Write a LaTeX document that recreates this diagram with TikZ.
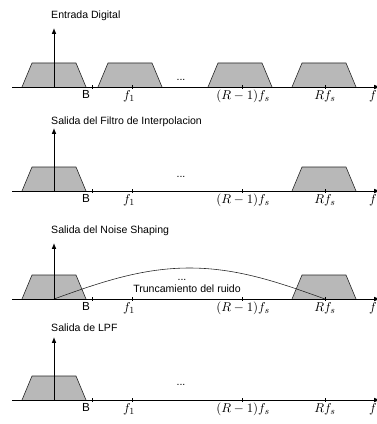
\documentclass[tikz,border=0pt]{standalone}
\usepackage{fontspec}
\setsansfont{Liberation Sans}
\usetikzlibrary{arrows.meta,positioning}

\begin{document}
\begin{tikzpicture}[
    x=0.03cm, y=-0.03cm,
    axis/.style={line width=0.7pt, -{Latex[length=5pt,width=4pt]}},
    band/.style={draw=black!85, line width=0.5pt, fill=black!28},
    noise/.style={draw=black!85, line width=0.5pt},
    tick/.style={line width=0.4pt},
    title/.style={font=\sffamily\fontsize{9}{10}\selectfont, anchor=west, inner sep=0pt},
    lbl/.style={font=\fontsize{11}{12}\selectfont, anchor=north, inner sep=0pt},
    blbl/.style={font=\sffamily\fontsize{10}{11}\selectfont, anchor=north, inner sep=0pt},
    dots/.style={font=\sffamily\fontsize{9}{10}\selectfont, inner sep=0pt}
]
\useasboundingbox (0,0) rectangle (377,424);
% bands (drawn first, axes on top)
\foreach \ya/\cx in {87/54, 87/130, 87/240, 87/324, 191/54, 191/324, 299/54, 299/324, 400/54}
  \path[band] (\cx-32,\ya) -- (\cx-22,\ya-24) -- (\cx+22,\ya-24) -- (\cx+32,\ya);
% noise shaping curve
\draw[noise] plot[domain=54:325, samples=60] (\x, {299-31*sin(0.6642*(\x-54))});
\node[dots] (d3) at (182,280) {...};
\node[dots, font=\sffamily\fontsize{9}{10}\selectfont] (trunc) at (187,289) {Truncamiento del ruido};
% axes, ticks and labels of the four panels
\foreach \n/\ya/\yh/\yt/\yd/\ttl in {1/87/28/16/80/Entrada Digital,
    2/191/128/122/177/Salida del Filtro de Interpolacion,
    3/299/243/231/0/Salida del Noise Shaping,
    4/400/337/328/385/Salida de LPF} {
  \coordinate (s\n) at (12,\ya);
  \coordinate (e\n) at (380,\ya);
  \coordinate (o\n) at (54,\ya);
  \coordinate (h\n) at (54,\yh);
  \draw[axis] (s\n) -- (e\n);
  \draw[axis] (o\n) -- (h\n);
  \foreach \tx in {92,132,242,325}
    \draw[tick] (\tx,\ya-2) -- (\tx,\ya+2);
  \node[title] (t\n) at (51,\yt) {\ttl};
  \node[blbl] (b\n) at (86,\ya+3) {B};
  \node[lbl] (f\n) at (129,\ya+3) {$f_1$};
  \node[lbl] (r\n) at (243,\ya+3) {$(R-1)f_s$};
  \node[lbl] (q\n) at (325,\ya+3) {$Rf_s$};
  \node[lbl] (x\n) at (373,\ya+3) {$f$};
  \ifnum\n=3\else\node[dots] (d\n) at (181,\yd) {...};\fi
}
\end{tikzpicture}
\end{document}
